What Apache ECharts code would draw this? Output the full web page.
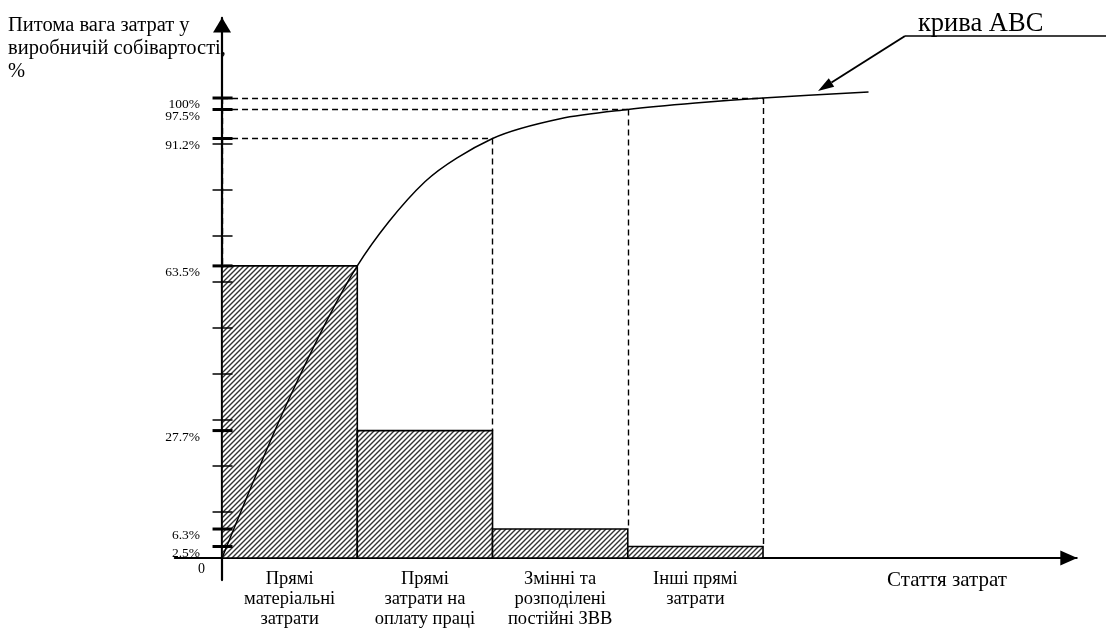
<!DOCTYPE html>
<html><head><meta charset="utf-8">
<script src="https://cdn.jsdelivr.net/npm/echarts@6/dist/echarts.min.js"></script>
<style>html,body{margin:0;padding:0;background:#fff}#c{width:1106px;height:631px}</style>
</head><body><div id="c"></div>
<script>
// ---- data ----
const categories = ['Прямі\nматеріальні\nзатрати', 'Прямі\nзатрати на\nоплату праці', 'Змінні та\nрозподілені\nпостійні ЗВВ', 'Інші прямі\nзатрати'];
const shareValues = [63.5, 27.7, 6.3, 2.5];
const cumulativeValues = [63.5, 91.2, 97.5, 100];
// ABC curve (x in category widths, y in %)
const curveX = [0, 0.5, 1, 1.5, 2, 2.5, 3, 3.5, 4, 4.78];
const curveY = [0, 34.9, 63.5, 81.8, 91.2, 95.5, 97.5, 98.9, 100, 101.3];
const majorTicks = [2.5, 6.3, 27.7, 63.5, 91.2, 97.5, 100];
const labelsA = [2.5, 6.3, 27.7, 63.5, 91.2, 100];
const labelsB = [97.5];
const minorTicks = [10, 20, 30, 40, 50, 60, 70, 80, 90];
const yTitle = 'Питома вага затрат у\nвиробничій собівартості,\n%';
const xTitle = 'Стаття затрат';
const curveName = 'крива АВС';

const FONT = 'Liberation Serif';

function hatchCanvas() {
  const s = 5, c = document.createElement('canvas');
  c.width = s; c.height = s;
  const g = c.getContext('2d');
  g.fillStyle = '#fff'; g.fillRect(0, 0, s, s);
  g.strokeStyle = '#333'; g.lineWidth = 1.4;
  g.beginPath();
  g.moveTo(0, s); g.lineTo(s, 0);
  g.moveTo(-1, 1); g.lineTo(1, -1);
  g.moveTo(s - 1, s + 1); g.lineTo(s + 1, s - 1);
  g.stroke();
  return c;
}
const pattern = { image: hatchCanvas(), repeat: 'repeat' };

// guide (dashed) lines built from the data
const guides = [];
for (let i = 1; i < cumulativeValues.length; i++) {
  guides.push({ coords: [[0, cumulativeValues[i]], [i + 1, cumulativeValues[i]]] });
  guides.push({ coords: [[i + 1, cumulativeValues[i]], [i + 1, shareValues[i]]] });
}
guides.push({ coords: [[0, cumulativeValues[cumulativeValues.length - 1]], [0, cumulativeValues[0]]] });

const tickData = majorTicks.map(v => [0, v, 1]).concat(minorTicks.map(v => [0, v, 0]));

const yLabelStyle = {
  formatter: v => v + '%',
  hideOverlap: false, showMaxLabel: true, showMinLabel: true,
  margin: -25.3, fontSize: 13.5, fontFamily: FONT, color: '#000', verticalAlign: 'top', lineHeight: 13
};

const chart = echarts.init(document.getElementById('c'), null, { renderer: 'canvas' });
chart.setOption({
  animation: false,
  backgroundColor: '#fff',
  grid: { left: 174.7, right: 29.2, top: 17.96, bottom: 50.92, containLabel: false, outerBoundsMode: 'none' },
  xAxis: {
    type: 'value', min: -0.35, max: 6.32,
    axisLine: { onZero: true, symbol: ['none', 'triangle'], symbolSize: [15, 17], symbolOffset: [0, -8], lineStyle: { color: '#000', width: 1.8 } },
    axisTick: { show: false },
    splitLine: { show: false },
    axisLabel: {
      customValues: [0.5, 1.5, 2.5, 3.5],
      formatter: v => categories[Math.floor(v)],
      hideOverlap: false,
      margin: -11, fontSize: 18.5, lineHeight: 20, fontFamily: FONT, color: '#000', align: 'center'
    }
  },
  yAxis: [
    {
      type: 'value', min: -4.8, max: 117.4,
      axisLine: { onZero: true, symbol: ['none', 'triangle'], symbolSize: [18, 15], symbolOffset: [0, -7], lineStyle: { color: '#000', width: 2.2 } },
      axisTick: { show: false },
      splitLine: { show: false },
      axisLabel: Object.assign({ customValues: labelsA }, yLabelStyle)
    },
    {
      type: 'value', min: -4.8, max: 117.4, position: 'left', offset: 0,
      axisLine: { show: false, onZero: false },
      axisTick: { show: false },
      splitLine: { show: false },
      axisLabel: Object.assign({ customValues: labelsB }, yLabelStyle)
    }
  ],
  series: [
    {
      type: 'custom', name: 'bars', z: 2, clip: false,
      data: shareValues.map((v, i) => [i, v]),
      encode: { x: 0, y: 1 },
      renderItem: (p, api) => {
        const i = api.value(0), v = api.value(1);
        const a = api.coord([i, v]), b = api.coord([i + 1, 0]);
        return { type: 'rect', shape: { x: a[0], y: a[1], width: b[0] - a[0], height: b[1] - a[1] },
          style: { fill: pattern, stroke: '#000', lineWidth: 1.6 } };
      }
    },
    {
      type: 'lines', coordinateSystem: 'cartesian2d', z: 3, silent: true,
      data: guides,
      lineStyle: { color: '#000', width: 1.4, type: [6, 4], opacity: 1 }
    },
    {
      type: 'line', name: curveName, z: 4,
      data: curveX.map((x, i) => [x, curveY[i]]),
      smooth: 0.3, symbol: 'none',
      lineStyle: { color: '#000', width: 1.5 }
    },
    {
      type: 'custom', name: 'ticks', z: 5, clip: false,
      data: tickData,
      encode: { x: 0, y: 1 },
      renderItem: (p, api) => {
        const pt = api.coord([api.value(0), api.value(1)]);
        const major = api.value(2) === 1;
        return { type: 'line', shape: { x1: pt[0] - 9.5, y1: pt[1], x2: pt[0] + 10.5, y2: pt[1] },
          style: { stroke: '#000', lineWidth: major ? 3 : 1.5 } };
      }
    }
  ],
  graphic: [
    { type: 'text', left: 8, top: 14, style: { text: yTitle, font: '20.5px "' + FONT + '"', lineHeight: 23, fill: '#000' } },
    { type: 'text', left: 198, top: 562, style: { text: '0', font: '14px "' + FONT + '"', fill: '#000' } },
    { type: 'text', left: 887, top: 570, style: { text: xTitle, font: '21px "' + FONT + '"', fill: '#000' } },
    { type: 'text', left: 918, top: 11, style: { text: curveName, font: '26.5px "' + FONT + '"', fill: '#000' } },
    { type: 'line', shape: { x1: 905, y1: 36, x2: 1106, y2: 36 }, style: { stroke: '#000', lineWidth: 1.4 } },
    { type: 'line', shape: { x1: 905, y1: 36, x2: 831.5, y2: 82.5 }, style: { stroke: '#000', lineWidth: 2 } },
    { type: 'polygon', shape: { points: [[818, 91], [834.2, 86.7], [828.8, 78.3]] }, style: { fill: '#000' } }
  ]
});
</script></body></html>
